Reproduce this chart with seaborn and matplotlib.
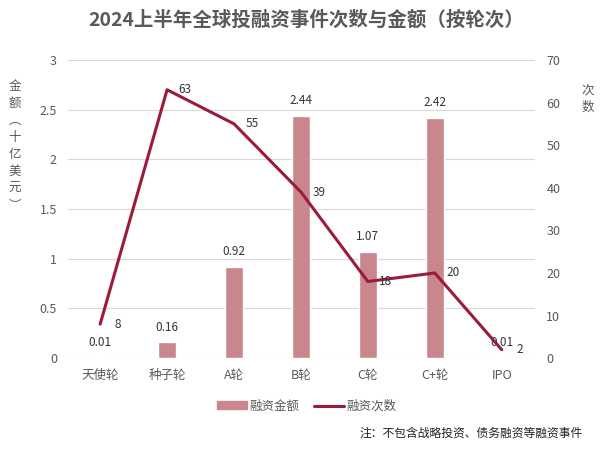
import numpy as np
import pandas as pd
import matplotlib.pyplot as plt
import seaborn as sns
from matplotlib.lines import Line2D
from matplotlib.patches import Patch

rounds = ["天使轮", "种子轮", "A轮", "B轮", "C轮", "C+轮", "IPO"]
amounts = [0.01, 0.16, 0.92, 2.44, 1.07, 2.42, 0.01]
counts = [8, 63, 55, 39, 18, 20, 2]

bar_color = "#C9868C"
line_color = "#9B1B3B"
text_color = "#595959"

sns.set_style("white")
plt.rcParams["font.family"] = ["Noto Sans CJK SC", "DejaVu Sans"]

df = pd.DataFrame({"round": rounds, "amount": amounts, "count": counts,
                   "pos": np.arange(len(rounds))})

fig = plt.figure(figsize=(6.13, 4.54), dpi=100)
ax = fig.add_axes([0.111, 0.211, 0.762, 0.657])
ax2 = ax.twinx()

sns.barplot(data=df, x="round", y="amount", color=bar_color, width=0.27,
            saturation=1, ax=ax, zorder=2)
sns.lineplot(data=df, x="pos", y="count", color=line_color, linewidth=2.2,
             ax=ax2, zorder=3)

ax.set_ylim(0, 3)
ax.set_yticks(np.arange(0, 3.01, 0.5))
ax.set_yticklabels(["0", "0.5", "1", "1.5", "2", "2.5", "3"])
ax2.set_ylim(0, 70)
ax2.set_yticks(range(0, 71, 10))
ax.set_xlim(-0.48, 6.5)

ax.grid(axis="y", color="#D9D9D9", linewidth=0.8, zorder=0)
ax.set_axisbelow(True)
for a in (ax, ax2):
    for s in a.spines.values():
        s.set_visible(False)
    a.tick_params(length=0, labelsize=9, colors=text_color, pad=8)
    a.set_xlabel("")
    a.set_ylabel("")

for i, v in enumerate(amounts):
    ax.annotate(f"{v:.2f}", (i, v), xytext=(0, 6), textcoords="offset points",
                ha="center", va="bottom", fontsize=8.5, color="#333333")
for i, v in enumerate(counts):
    ax2.annotate(str(v), (i, v), xytext=(13, 0), textcoords="offset points",
                 ha="center", va="center", fontsize=8.5, color="#333333")

fig.text(0.5, 0.955, "2024上半年全球投融资事件次数与金额（按轮次）", ha="center",
         va="center", fontsize=14, fontweight="bold", color=text_color)
fig.text(0.024, 0.678, "\n".join("金额︵十亿美元︶"), ha="center", va="center",
         fontsize=9, color=text_color, linespacing=1.4)
fig.text(0.959, 0.782, "次\n数", ha="center", va="center",
         fontsize=9, color=text_color, linespacing=1.4)

handles = [Patch(color=bar_color, label="融资金额"),
           Line2D([0], [0], color=line_color, linewidth=2.2, label="融资次数")]
fig.legend(handles=handles, loc="center", bbox_to_anchor=(0.5, 0.105), ncol=2,
           frameon=False, fontsize=9, handlelength=2.4, handleheight=0.6,
           columnspacing=1.2, handletextpad=0.2, labelcolor=text_color)
fig.text(0.95, 0.045, "注：不包含战略投资、债务融资等融资事件", ha="right",
         va="center", fontsize=8.5, color="#222222")

fig.savefig("out.png", dpi=100)
